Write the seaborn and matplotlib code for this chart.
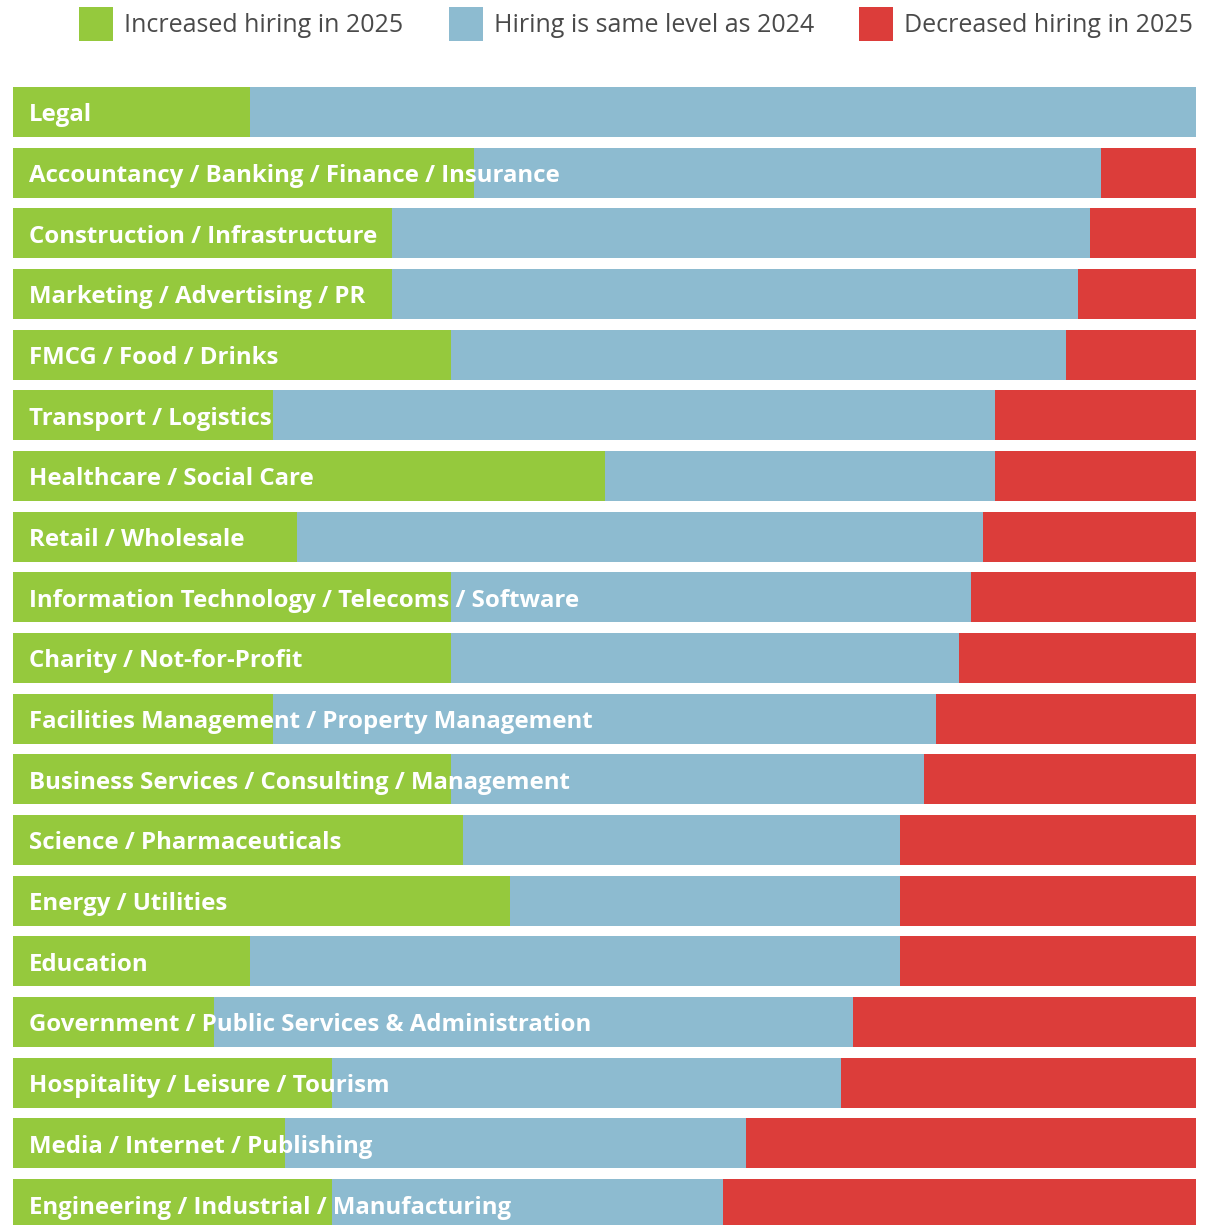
import matplotlib
matplotlib.use("Agg")
import matplotlib.pyplot as plt
from matplotlib.patches import Patch
import seaborn as sns
import pandas as pd

sectors = [
    "Legal",
    "Accountancy / Banking / Finance / Insurance",
    "Construction / Infrastructure",
    "Marketing / Advertising / PR",
    "FMCG / Food / Drinks",
    "Transport / Logistics",
    "Healthcare / Social Care",
    "Retail / Wholesale",
    "Information Technology / Telecoms / Software",
    "Charity / Not-for-Profit",
    "Facilities Management / Property Management",
    "Business Services / Consulting / Management",
    "Science / Pharmaceuticals",
    "Energy / Utilities",
    "Education",
    "Government / Public Services & Administration",
    "Hospitality / Leisure / Tourism",
    "Media / Internet / Publishing",
    "Engineering / Industrial / Manufacturing",
]
increased = [20, 39, 32, 32, 37, 22, 50, 24, 37, 37, 22, 37, 38, 42, 20, 17, 27, 23, 27]
same = [80, 53, 59, 58, 52, 61, 33, 58, 44, 43, 56, 40, 37, 33, 55, 54, 43, 39, 33]
decreased = [0, 8, 9, 10, 11, 17, 17, 18, 19, 20, 22, 23, 25, 25, 25, 29, 30, 38, 40]

legend_labels = ["Increased hiring in 2025", "Hiring is same level as 2024", "Decreased hiring in 2025"]
colors = ["#95c93d", "#8dbbd0", "#dc3d3a"]

df = pd.DataFrame({"sector": sectors, "inc": increased, "same": same, "dec": decreased})
df["cum_inc"] = df["inc"]
df["cum_same"] = df["inc"] + df["same"]
df["cum_dec"] = df["inc"] + df["same"] + df["dec"]

sns.set_theme(style="white")
plt.rcParams["font.family"] = ["Open Sans", "DejaVu Sans"]

W, H = 1220, 1225
fig = plt.figure(figsize=(W / 100, H / 100), dpi=100)
ax = fig.add_axes([13 / W, 0, 1183 / W, (H - 80) / H])

bar_w = 50 / 60.67
# Stack by painting cumulative totals back to front
for col, c in [("cum_dec", colors[2]), ("cum_same", colors[1]), ("cum_inc", colors[0])]:
    sns.barplot(data=df, x=col, y="sector", orient="h", color=c, width=bar_w,
                saturation=1, linewidth=0, ax=ax)

ax.set_xlim(0, 100)
ax.set_ylim(18.345, -0.527)
ax.set_axis_off()

for i, name in enumerate(sectors):
    ax.annotate(name, xy=(0, i), xytext=(11.5, -6.8), textcoords="offset points",
                va="baseline", ha="left", color="white", fontsize=17.3,
                fontweight="bold")

handles = [Patch(facecolor=c, edgecolor="none") for c in colors]
fig.legend(handles, legend_labels, loc="upper left", ncol=3, frameon=False,
           bbox_to_anchor=(79 / W, 1 - 7 / H), borderpad=0, borderaxespad=0,
           fontsize=18, handlelength=1.36, handleheight=1.715,
           handletextpad=0.44, columnspacing=1.82, labelcolor="#4a4a4a")

fig.savefig("out.png", dpi=100)
